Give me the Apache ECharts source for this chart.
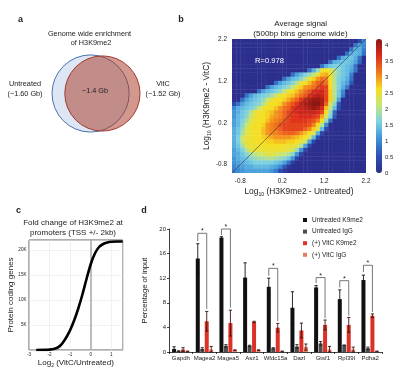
<!DOCTYPE html>
<html><head><meta charset="utf-8">
<script src="https://cdn.jsdelivr.net/npm/echarts@6/dist/echarts.min.js"></script>
<style>html,body{margin:0;padding:0;background:#fff}#c{width:400px;height:382px}</style>
</head><body><div id="c"></div>
<script>
// ================= DATA =================
// Panel a : Venn of genome-wide H3K9me2 enrichment
const vennSets = ['Untreated', 'VitC'];
const vennSizesGb = [1.60, 1.52];
const vennOverlapGb = 1.4;

// Panel b : density of 500bp bins (rows from top y=2.2 down to y=-1, 0.1 wide bins from x=-1)
const heatBinStart = -1.0, heatTop = 2.2, heatBinSize = 0.1;
const heatDensity = [
[0,0,0,0,0,0,0,0,0,0, 0,0,0,0,0,0,0,0,0,0, 0,0,0,0,0,0,0,0,0,0, 0.5,1.0],
[0,0,0,0,0,0,0,0,0,0, 0,0,0,0,0,0,0,0,0,0, 0,0,0,0,0,0,0,0,0,0.8, 1.2,1.0],
[0,0,0,0,0,0,0,0,0,0, 0,0,0,0,0,0,0,0,0,0, 0,0,0,0,0,0,0,0,0.8,1.3, 1.3,0.9],
[0,0,0,0,0,0,0,0,0,0, 0,0,0,0,0,0,0,0,0,0, 0,0,0,0,0,0,0,0.8,1.3,1.4, 1.3,0.8],
[0,0,0,0,0,0,0,0,0,0, 0,0,0,0,0,0,0,0,0,0, 0,0,0,0,0,0.8,1.3,1.4,1.5,1.3, 0.8,0],
[0,0,0,0,0,0,0,0,0,0, 0,0,0,0,0,0,0,0,0,0, 0,0,0,0.8,1.3,1.4,1.5,1.5,1.4,1.2, 0.7,0],
[0,0,0,0,0,0,0,0,0,0, 0,0,0,0,0,0,0,0,0,0, 0,0.8,1.3,1.5,1.6,1.6,1.5,1.4,1.3,0.8, 0,0],
[0,0,0,0,0,0,0,0,0,0, 0,0,0,0,0,0,0,0,0.8,1.3, 1.8,2.5,2.6,2.5,2.0,1.7,1.5,1.4,1.2,0.8, 0,0],
[0,0,0,0,0,0,0,0,0,0, 0,0,0,0,0.8,1.2,1.4,1.6,1.8,2.1, 2.5,2.8,2.9,2.6,2.0,1.7,1.5,1.4,0.9,0, 0,0],
[0,0,0,0,0,0,0,0,0,0, 0,0,0.8,1.2,1.4,1.5,1.7,2.0,2.5,2.7, 3.0,3.2,3.1,2.6,2.0,1.6,1.5,1.3,0.8,0, 0,0],
[0,0,0,0,0,0,0,0,0,0, 0.8,1.2,1.4,1.5,1.7,2.0,2.5,2.6,2.8,3.1, 3.3,3.4,3.2,2.6,2.0,1.6,1.4,1.2,0.6,0, 0,0],
[0,0,0,0,0,0,0,0,0.8,1.2, 1.4,1.5,1.6,1.8,2.1,2.5,2.7,3.0,3.1,3.2, 3.4,3.6,3.5,2.6,2.0,1.6,1.3,0.9,0,0, 0,0],
[0,0,0,0,0,0,0.8,1.2,1.4,1.5, 1.6,1.8,2.1,2.5,2.6,2.8,3.0,3.2,3.4,3.6, 3.7,3.8,3.5,2.7,2.0,1.5,1.0,0,0,0, 0,0],
[0,0,0,0.8,1.2,1.4,1.5,1.6,1.7,1.9, 2.2,2.5,2.6,2.7,2.8,3.0,3.2,3.4,3.6,3.8, 3.9,3.8,3.5,2.7,2.0,1.5,0.9,0,0,0, 0,0],
[0,0,0.8,1.2,1.4,1.5,1.6,1.8,2.1,2.5, 2.6,2.6,2.7,2.9,3.1,3.3,3.6,3.8,4.0,4.1, 4.1,4.0,3.5,2.7,2.0,1.2,0,0,0,0, 0,0],
[0.5,0.8,1.2,1.4,1.5,1.6,1.7,2.0,2.5,2.6, 2.6,2.7,3.0,3.2,3.4,3.6,3.8,4.0,4.1,4.2, 4.2,4.0,3.3,2.3,1.7,0.6,0,0,0,0, 0,0],
[1.0,1.3,1.4,1.5,1.6,1.8,2.2,2.5,2.6,2.6, 2.8,3.0,3.2,3.3,3.6,3.7,3.8,3.9,4.0,4.1, 4.0,3.7,2.8,2.1,1.4,0.5,0,0,0,0, 0,0],
[1.1,1.3,1.5,1.6,2.0,2.5,2.6,2.6,2.7,2.8, 3.0,3.1,3.3,3.5,3.6,3.7,3.8,3.8,3.8,3.8, 3.7,3.5,2.6,1.8,0.7,0,0,0,0,0, 0,0],
[1.1,1.4,1.5,1.7,2.2,2.5,2.6,2.6,2.7,2.9, 3.0,3.1,3.3,3.5,3.6,3.6,3.7,3.7,3.7,3.6, 3.5,2.9,2.3,1.6,0.6,0,0,0,0,0, 0,0],
[1.2,1.4,1.6,1.9,2.4,2.5,2.6,2.6,2.8,3.0, 3.1,3.2,3.4,3.5,3.6,3.6,3.6,3.6,3.5,3.4, 3.1,2.6,1.8,0.8,0,0,0,0,0,0, 0,0],
[1.2,1.4,1.7,2.1,2.5,2.6,2.6,2.7,3.0,3.1, 3.2,3.4,3.5,3.5,3.5,3.5,3.5,3.5,3.4,3.1, 2.6,2.0,1.0,0,0,0,0,0,0,0, 0,0],
[1.3,1.5,1.8,2.4,2.5,2.6,2.6,2.8,3.0,3.1, 3.2,3.3,3.5,3.5,3.5,3.5,3.5,3.3,3.1,2.7, 2.3,1.4,0.5,0,0,0,0,0,0,0, 0,0],
[1.3,1.5,1.9,2.4,2.5,2.6,2.6,2.8,3.0,3.1, 3.1,3.2,3.3,3.3,3.3,3.2,3.0,2.8,2.6,2.4, 1.3,0.4,0,0,0,0,0,0,0,0, 0,0],
[1.3,1.6,2.2,2.5,2.5,2.6,2.6,2.7,2.8,2.9, 3.0,3.0,3.0,3.0,2.9,2.8,2.7,2.6,2.3,1.4, 0.5,0,0,0,0,0,0,0,0,0, 0,0],
[1.3,1.6,2.1,2.5,2.5,2.6,2.6,2.6,2.7,2.7, 2.8,2.8,2.8,2.7,2.7,2.6,2.5,2.2,1.2,0.4, 0,0,0,0,0,0,0,0,0,0, 0,0],
[1.3,1.5,1.9,2.4,2.5,2.5,2.6,2.6,2.6,2.6, 2.6,2.6,2.6,2.5,2.5,2.4,2.0,1.2,0.4,0, 0,0,0,0,0,0,0,0,0,0, 0,0],
[1.2,1.4,1.6,2.0,2.4,2.5,2.5,2.5,2.5,2.5, 2.5,2.5,2.5,2.4,2.3,1.8,1.1,0.4,0,0, 0,0,0,0,0,0,0,0,0,0, 0,0],
[1.2,1.3,1.5,1.7,1.9,2.1,2.2,2.3,2.4,2.4, 2.3,2.2,2.1,2.0,1.7,1.1,0.4,0,0,0, 0,0,0,0,0,0,0,0,0,0, 0,0],
[1.1,1.3,1.4,1.5,1.7,1.8,1.9,1.9,2.0,2.0, 1.9,1.8,1.7,1.5,1.1,0.4,0,0,0,0, 0,0,0,0,0,0,0,0,0,0, 0,0],
[1.1,1.2,1.3,1.4,1.5,1.6,1.6,1.6,1.6,1.6, 1.5,1.4,1.2,0.8,0.3,0,0,0,0,0, 0,0,0,0,0,0,0,0,0,0, 0,0],
[1.0,1.1,1.2,1.3,1.3,1.4,1.4,1.4,1.4,1.3, 1.2,1.0,0.6,0.2,0,0,0,0,0,0, 0,0,0,0,0,0,0,0,0,0, 0,0],
[0.9,1.0,1.1,1.2,1.2,1.2,1.2,1.2,1.2,1.1, 0.9,0.5,0.2,0,0,0,0,0,0,0, 0,0,0,0,0,0,0,0,0,0, 0,0]
];
const heatAxisTicks = [-0.8, 0.2, 1.2, 2.2];
const colorbarMax = 4.2;
const correlationR = 0.978;
const diagLine = [[-1, -1], [2.2, 2.2]];

// Panel c : cumulative distribution of log2 fold change at promoters
const cdfX = [-2.65, -2.2, -2.0, -1.8, -1.6, -1.45, -1.3, -1.15, -1.0, -0.8, -0.6, -0.4, -0.2, 0, 0.2, 0.4, 0.6, 0.8, 1.0, 1.3, 1.55];
const cdfY = [0, 30, 80, 200, 500, 1000, 1800, 2800, 4000, 6000, 8400, 11200, 14300, 17200, 19300, 20600, 21200, 21500, 21650, 21700, 21700];

// Panel d : ChIP-qPCR
const genes = ['Gapdh', 'Magea2', 'Magea5', 'Asz1', 'Wfdc15a', 'Dazl', 'Gtsf1', 'Rpl39l', 'Pdha2'];
const seriesNames = ['Untreated K9me2', 'Untreated IgG', '(+) VitC K9me2', '(+) VitC IgG'];
const untreatedK9 = [0.5, 15.2, 18.6, 12.1, 10.6, 7.2, 10.5, 8.6, 11.7];
const untreatedK9Err = [0.35, 2.4, 0.15, 2.4, 1.4, 2.6, 0.3, 1.5, 0.8];
const untreatedIgG = [0.15, 0.5, 1.0, 1.0, 0.6, 0.9, 1.4, 1.1, 0.6];
const untreatedIgGErr = [0.05, 0.2, 0.2, 0.1, 0.1, 0.3, 0.3, 0.05, 0.2];
const vitcK9 = [0.4, 5.0, 4.7, 4.9, 3.95, 3.5, 4.4, 4.4, 5.9];
const vitcK9Err = [0.3, 1.6, 2.1, 0.1, 0.7, 1.2, 0.8, 1.2, 0.3];
const vitcIgG = [0.1, 0.4, 0.3, 0.3, 0.1, 0.8, 0.4, 0.4, 0.1];
const vitcIgGErr = [0.05, 0.5, 0.05, 0.05, 0.05, 0.5, 0.5, 0.4, 0.05];
// significance brackets: gene, bracket top, left foot, right foot
const bracketGenes = ['Magea2', 'Magea5', 'Wfdc15a', 'Gtsf1', 'Rpl39l', 'Pdha2'];
const bracketTop = [19.3, 20.0, 13.6, 12.1, 11.6, 14.1];
const bracketLeftFoot = [18.0, 19.0, 12.4, 11.2, 10.5, 13.0];
const bracketRightFoot = [7.0, 7.2, 5.0, 5.5, 5.9, 6.5];

// ================= CHART =================
const FONT = "'Liberation Sans', Arial, Helvetica, sans-serif";
const TXT = '#222';
const chart = echarts.init(document.getElementById('c'), null, {renderer: 'canvas', width: 400, height: 382});

const heatData = [];
heatDensity.forEach((row, r) => row.forEach((v, i) => {
  heatData.push([heatBinStart + heatBinSize * (i + 0.5), heatTop - heatBinSize * (r + 0.5), v]);
}));

const BAR_W = 4, BAR_GAP = 0.12;
const step = BAR_W * (1 + BAR_GAP);
const offsets = [-1.5, -0.5, 0.5, 1.5].map(k => k * step);
const barColors = ['#111111', '#4d4d4d', '#dc3127', '#ec7a62'];
const barVals = [untreatedK9, untreatedIgG, vitcK9, vitcIgG];
const barErrs = [untreatedK9Err, untreatedIgGErr, vitcK9Err, vitcIgGErr];
const errColors = ['#111', '#222', '#3b1410', '#3b1410'];

function errRender(offset, color) {
  return function (params, api) {
    const c = api.value(0), v = api.value(1), e = api.value(2);
    const top = api.coord([c, v + e]);
    const bot = api.coord([c, Math.max(0, v - e)]);
    const x = top[0] + offset, cap = 1.6;
    const st = {stroke: color, lineWidth: 0.9};
    return {type: 'group', children: [
      {type: 'line', shape: {x1: x, y1: top[1], x2: x, y2: bot[1]}, style: st},
      {type: 'line', shape: {x1: x - cap, y1: top[1], x2: x + cap, y2: top[1]}, style: st},
      {type: 'line', shape: {x1: x - cap, y1: bot[1], x2: x + cap, y2: bot[1]}, style: st}
    ]};
  };
}

function sub(main, s, size, subSize) {
  return {
    text: '{a|' + main[0] + '}{s|' + s + '}{a|' + main[1] + '}',
    rich: {
      a: {fontSize: size, fontFamily: FONT, color: TXT, lineHeight: size + 3, verticalAlign: 'middle'},
      s: {fontSize: subSize, fontFamily: FONT, color: TXT, lineHeight: subSize, verticalAlign: 'bottom'}
    }
  };
}
const xNameB = sub(['Log', ' (H3K9me2 - Untreated)'], '10', 8.4, 5.2);
const yNameB = sub(['Log', ' (H3K9me2 - VitC)'], '10', 8.4, 5.2);
const xNameC = sub(['Log', ' (VitC/Untreated)'], '2', 8, 5);

const seriesList = [];
// Venn circles
vennSets.forEach((s, i) => {
  seriesList.push({
    type: 'scatter', name: s, xAxisIndex: 0, yAxisIndex: 0, silent: true,
    data: [[i, 0, vennSizesGb[i]]],
    symbolSize: v => 2 * 30.5 * Math.sqrt(v[2]),
    itemStyle: i === 0
      ? {color: '#dde6f4', borderColor: '#4a72ad', borderWidth: 1, opacity: 1}
      : {color: 'rgba(168,58,38,0.52)', borderColor: '#a3382e', borderWidth: 1, opacity: 1},
    z: 2 + i
  });
});
// heat map
seriesList.push({
  type: 'custom', xAxisIndex: 1, yAxisIndex: 1, silent: true, clip: true,
  data: heatData,
  renderItem: function (params, api) {
    const x = api.value(0), y = api.value(1), h = heatBinSize / 2;
    const p0 = api.coord([x - h, y + h]);
    const p1 = api.coord([x + h, y - h]);
    return {type: 'rect', shape: {x: p0[0], y: p0[1], width: p1[0] - p0[0] + 0.4, height: p1[1] - p0[1] + 0.4},
      style: {fill: api.visual('color')}};
  },
  encode: {x: 0, y: 1}, z: 1
});
const heatSeriesIndex = seriesList.length - 1;
seriesList.push({
  type: 'line', xAxisIndex: 1, yAxisIndex: 1, data: diagLine, symbol: 'none', silent: true,
  lineStyle: {color: '#3a3a3a', width: 0.6}, z: 5
});
// CDF
seriesList.push({
  type: 'line', xAxisIndex: 3, yAxisIndex: 3, smooth: 0.3, symbol: 'none', silent: true,
  data: cdfX.map((x, i) => [x, cdfY[i]]),
  lineStyle: {color: '#000', width: 2.6}, z: 4,
  markLine: {silent: true, symbol: ['none', 'none'], label: {show: false},
    lineStyle: {color: '#a9a9a9', width: 1.5, type: 'solid'}, data: [{xAxis: 0}], z: 3}
});
// bars
barVals.forEach((vals, k) => {
  seriesList.push({
    type: 'bar', name: seriesNames[k], xAxisIndex: 4, yAxisIndex: 4, data: vals,
    barWidth: BAR_W, barGap: (BAR_GAP * 100) + '%', silent: true,
    itemStyle: {color: barColors[k]}, z: 2
  });
});
barErrs.forEach((errs, k) => {
  seriesList.push({
    type: 'custom', xAxisIndex: 4, yAxisIndex: 4, silent: true, clip: false,
    data: errs.map((e, i) => [i, barVals[k][i], e]),
    renderItem: errRender(offsets[k], errColors[k]), z: 3
  });
});
// significance brackets
seriesList.push({
  type: 'custom', xAxisIndex: 4, yAxisIndex: 4, silent: true, clip: false,
  data: bracketGenes.map((g, i) => [genes.indexOf(g), bracketTop[i], bracketLeftFoot[i], bracketRightFoot[i]]),
  renderItem: function (params, api) {
    const c = api.value(0);
    const t = api.coord([c, api.value(1)]);
    const lf = api.coord([c, api.value(2)]);
    const rf = api.coord([c, api.value(3)]);
    const xl = t[0] + offsets[0], xr = t[0] + offsets[2];
    return {type: 'group', children: [
      {type: 'polyline', shape: {points: [[xl, lf[1]], [xl, t[1]], [xr, t[1]], [xr, rf[1]]]},
        style: {stroke: '#555', lineWidth: 0.8, fill: null}},
      {type: 'text', x: (xl + xr) / 2, y: t[1] + 1.5,
        style: {text: '*', fontSize: 7, fontFamily: FONT, fill: '#222', align: 'center', verticalAlign: 'bottom'}}
    ]};
  }, z: 4
});

function txt(text, x, y, size, opts) {
  return Object.assign({type: 'text', x: x, y: y, silent: true, z: 100,
    style: Object.assign({text: text, fontSize: size, fontFamily: FONT, fill: TXT, align: 'center', verticalAlign: 'middle'}, (opts || {}))});
}

const option = {
  animation: false,
  backgroundColor: '#fff',
  textStyle: {fontFamily: FONT},
  grid: [
    {left: 84.7, top: 54, width: 23.6, height: 79},
    {left: 232, top: 39, width: 134, height: 134},
    {left: 382, top: 39, width: 1, height: 134},
    {left: 29, top: 240, width: 93.7, height: 110, show: true, borderColor: '#333', borderWidth: 0.8},
    {left: 169, top: 229, width: 213, height: 123}
  ],
  xAxis: [
    {gridIndex: 0, type: 'category', data: vennSets, show: false},
    {gridIndex: 1, type: 'value', min: -1, max: 2.2,
      axisLine: {show: false}, axisTick: {show: false}, splitLine: {show: false},
      axisLabel: {customValues: heatAxisTicks, fontSize: 6.4, color: TXT, margin: 5},
      name: xNameB.text, nameLocation: 'middle', nameGap: 13, nameTextStyle: {rich: xNameB.rich}},
    {gridIndex: 2, type: 'value', show: false},
    {gridIndex: 3, type: 'value', min: -3, max: 1.55, interval: 1,
      axisLine: {show: false}, axisTick: {show: false},
      splitLine: {show: true, lineStyle: {color: '#e4e4e4', width: 0.5}},
      axisLabel: {fontSize: 4.6, color: TXT, margin: 2.5, showMaxLabel: false},
      name: xNameC.text, nameLocation: 'middle', nameGap: 7, nameTextStyle: {rich: xNameC.rich}},
    {gridIndex: 4, type: 'category', data: genes,
      axisLine: {lineStyle: {color: '#111', width: 0.8}},
      axisTick: {show: true, length: 2, lineStyle: {color: '#111', width: 0.8}},
      axisLabel: {fontSize: 6, color: TXT, margin: 3, interval: 0}}
  ],
  yAxis: [
    {gridIndex: 0, type: 'category', data: ['genome'], show: false},
    {gridIndex: 1, type: 'value', min: -1, max: 2.2,
      axisLine: {show: false}, axisTick: {show: false}, splitLine: {show: false},
      axisLabel: {customValues: heatAxisTicks, fontSize: 6.4, color: TXT, margin: 5},
      name: yNameB.text, nameLocation: 'middle', nameGap: 19, nameTextStyle: {rich: yNameB.rich}},
    {gridIndex: 2, type: 'value', min: 0, max: colorbarMax, interval: 0.5, position: 'right',
      axisLine: {show: false}, axisTick: {show: false}, splitLine: {show: false},
      axisLabel: {fontSize: 6, color: TXT, margin: 2, showMaxLabel: false}},
    {gridIndex: 3, type: 'value', min: 0, max: 22000, interval: 5000,
      axisLine: {show: false}, axisTick: {show: false},
      splitLine: {show: true, lineStyle: {color: '#e4e4e4', width: 0.5}},
      axisLabel: {fontSize: 4.6, color: TXT, margin: 2.5, showMaxLabel: false,
        formatter: v => v === 0 ? '' : (v / 1000) + 'K'},
      name: 'Protein coding genes', nameLocation: 'middle', nameGap: 12.5,
      nameTextStyle: {fontSize: 8, color: TXT, fontFamily: FONT}},
    {gridIndex: 4, type: 'value', min: 0, max: 20, interval: 4,
      axisLine: {show: true, lineStyle: {color: '#111', width: 0.8}},
      axisTick: {show: true, length: 2, lineStyle: {color: '#111', width: 0.8}},
      splitLine: {show: false},
      axisLabel: {fontSize: 6, color: TXT, margin: 3},
      name: 'Percentage of input', nameLocation: 'middle', nameGap: 12.5,
      nameTextStyle: {fontSize: 7.6, color: TXT, fontFamily: FONT}}
  ],
  visualMap: [{
    type: 'continuous', min: 0, max: colorbarMax, seriesIndex: heatSeriesIndex, dimension: 2,
    left: 376, top: 39, itemWidth: 6, itemHeight: 134, padding: 0,
    calculable: false, realtime: false, text: null, showLabel: false, hoverLink: false,
    inRange: {color: ['#2c2f8d', '#2d4fb0', '#3d8fd8', '#79d0e6', '#c3e57e', '#f6df1f', '#f2781c', '#dd2a1c', '#8a1812']}
  }],
  legend: {
    data: seriesNames, orient: 'vertical', left: 303, top: 216, padding: 0,
    itemWidth: 4, itemHeight: 4, itemGap: 3.6, icon: 'rect', selectedMode: false,
    textStyle: {fontSize: 6.5, color: TXT, fontFamily: FONT, lineHeight: 8}
  },
  series: seriesList,
  graphic: [
    txt('a', 20.5, 19.5, 9, {fontWeight: 'bold'}),
    txt('b', 181, 19.5, 9, {fontWeight: 'bold'}),
    txt('c', 18.5, 211, 9, {fontWeight: 'bold'}),
    txt('d', 144, 211, 9, {fontWeight: 'bold'}),
    txt('Genome wide enrichment', 89.5, 33.5, 7.3),
    txt('of H3K9me2', 91, 43, 7.3),
    txt(vennSets[0], 25, 84, 7.3),
    txt('(~' + vennSizesGb[0].toFixed(2) + ' Gb)', 25, 94.3, 7.3),
    txt(vennSets[1], 163, 84, 7.3),
    txt('(~' + vennSizesGb[1].toFixed(2) + ' Gb)', 163, 94.3, 7.3),
    txt('~' + vennOverlapGb + ' Gb', 95, 91, 7.3),
    txt('Average signal', 300.7, 24, 8),
    txt('(500bp bins genome wide)', 300.5, 33.5, 8),
    txt('R=' + correlationR, 255, 61, 7.6, {fill: '#fff', align: 'left'}),
    txt('Fold change of H3K9me2 at', 73, 223, 8),
    txt('promoters (TSS +/- 2kb)', 73, 233, 8)
  ]
};
chart.setOption(option);
</script>
</body></html>
